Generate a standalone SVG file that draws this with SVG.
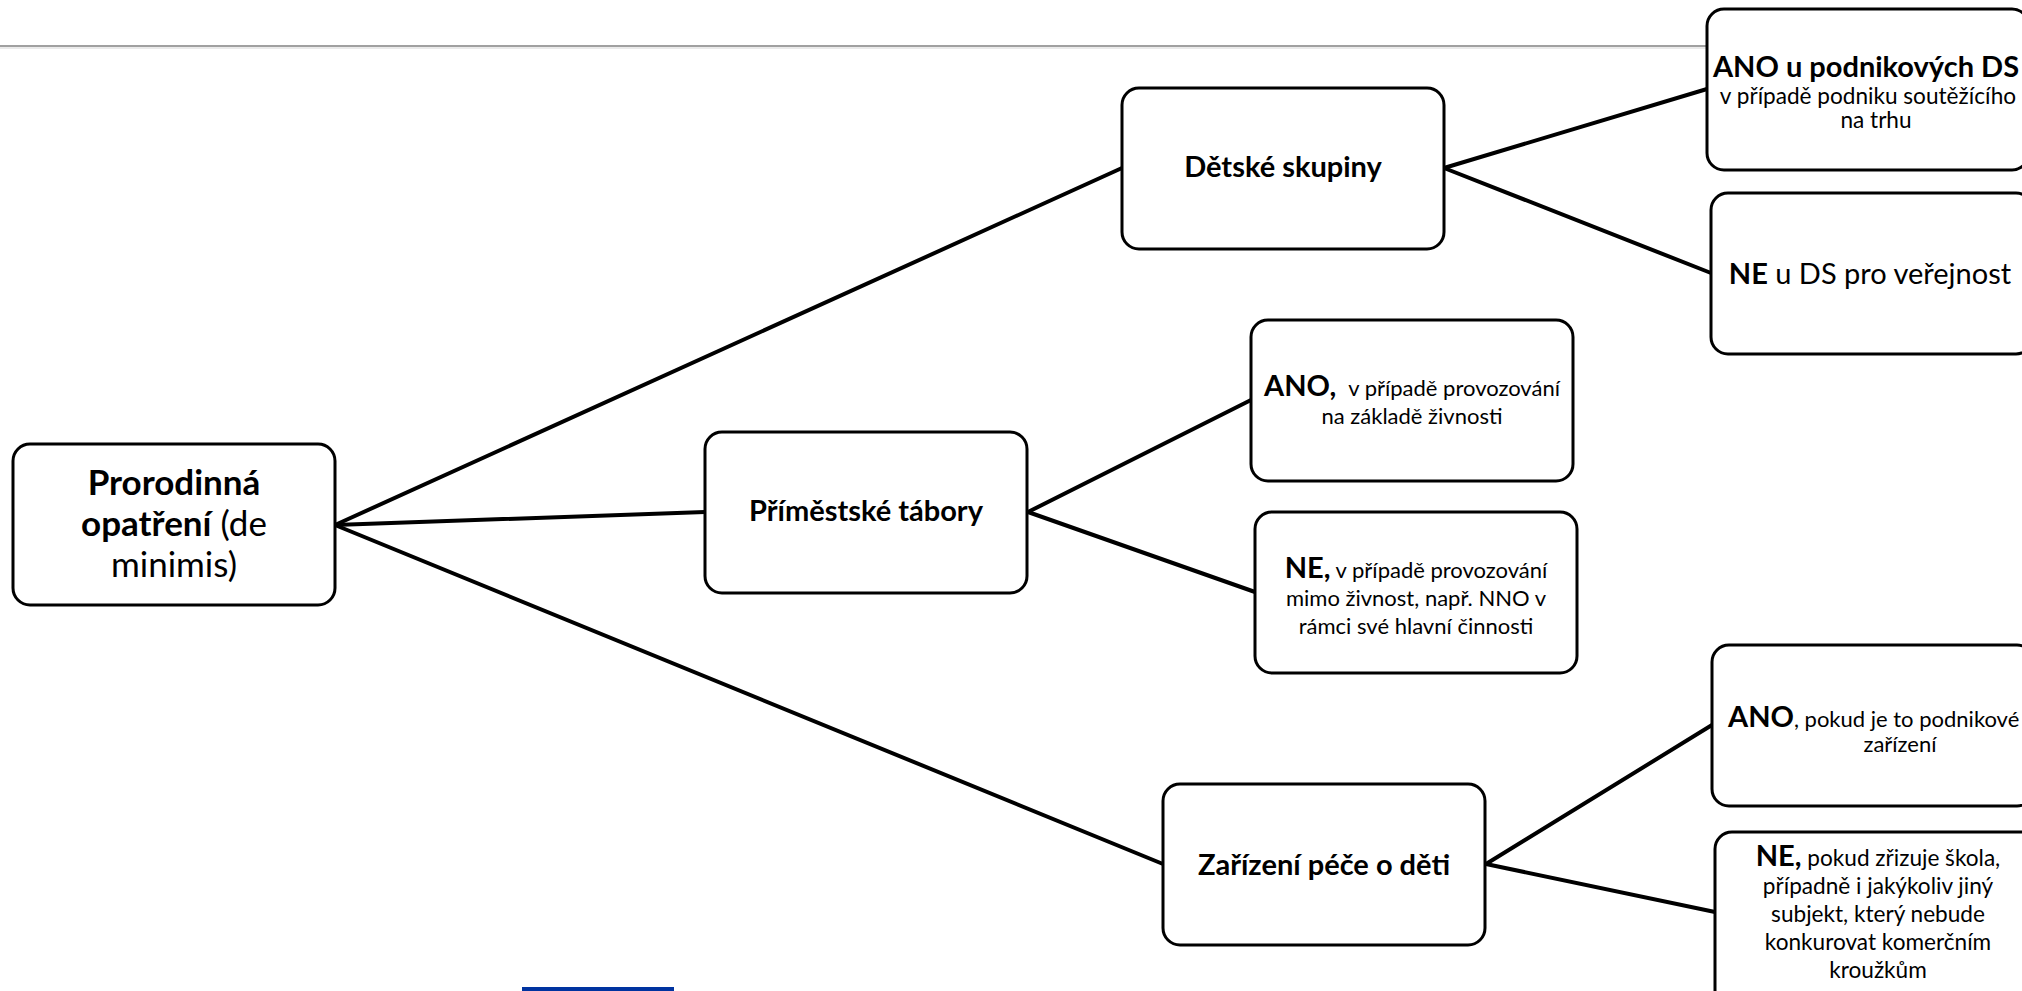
<svg xmlns="http://www.w3.org/2000/svg" width="2022" height="991" viewBox="0 0 2022 991">
<style>
.box{fill:#fff;stroke:#000;stroke-width:3}
.conn line{stroke:#000;stroke-width:4;stroke-linecap:round}
text{font-family:Lato,"Liberation Sans",sans-serif;fill:#000}
.R{font-size:35px}
.L{font-size:29px}
.S{font-size:22px}
.b{font-weight:bold}
.c{text-anchor:middle}
</style>
<rect x="0" y="0" width="2022" height="991" fill="#fff"/>
<line x1="0" y1="46" x2="1710" y2="46" stroke="#a0a0a0" stroke-width="2"/>
<line x1="0" y1="48" x2="1710" y2="48" stroke="#d6d6d6" stroke-width="1"/>
<g id="connectors" class="conn">
<line x1="335" y1="525" x2="1122" y2="168"/>
<line x1="335" y1="525" x2="705" y2="512"/>
<line x1="335" y1="525" x2="1163" y2="864"/>
<line x1="1444" y1="168" x2="1707" y2="89"/>
<line x1="1444" y1="168" x2="1711" y2="273"/>
<line x1="1028" y1="512" x2="1251" y2="400"/>
<line x1="1028" y1="512" x2="1255" y2="592"/>
<line x1="1486" y1="864" x2="1712" y2="725"/>
<line x1="1486" y1="864" x2="1715" y2="912"/>
</g>
<g id="root">
<rect class="box" x="13" y="444" width="322" height="161" rx="17"/>
<text class="R c" x="174" y="495"><tspan class="b">Prorodinná</tspan></text>
<text class="R c" x="174" y="536"><tspan class="b">opatření</tspan> (de</text>
<text class="R c" x="174" y="577">minimis)</text>
</g>
<g id="detske-skupiny">
<rect class="box" x="1122" y="88" width="322" height="161" rx="17"/>
<text class="L c b" x="1283" y="177">Dětské skupiny</text>
</g>
<g id="primestske-tabory">
<rect class="box" x="705" y="432" width="322" height="161" rx="17"/>
<text class="L c b" x="866" y="521">Příměstské tábory</text>
</g>
<g id="zarizeni-pece">
<rect class="box" x="1163" y="784" width="322" height="161" rx="17"/>
<text class="L c b" x="1324" y="875">Zařízení péče o děti</text>
</g>
<g id="pt-ano">
<rect class="box" x="1251" y="320" width="322" height="161" rx="17"/>
<text class="S c" x="1412" y="396"><tspan class="L b">ANO,</tspan><tspan dx="12">v případě provozování</tspan></text>
<text class="S c" x="1412" y="424">na základě živnosti</text>
</g>
<g id="pt-ne">
<rect class="box" x="1255" y="512" width="322" height="161" rx="17"/>
<text class="S c" x="1416" y="578"><tspan class="L b">NE,</tspan> v případě provozování</text>
<text class="S c" x="1416" y="606">mimo živnost, např. NNO v</text>
<text class="S c" x="1416" y="634">rámci své hlavní činnosti</text>
</g>
<g id="ds-ano">
<rect class="box" x="1707" y="9" width="322" height="161" rx="17"/>
<text class="L c b" x="1866" y="77">ANO u podnikových DS</text>
<text class="S c" x="1868" y="104" style="font-size:22.6px">v případě podniku soutěžícího</text>
<text class="S c" x="1876" y="128" style="font-size:22.6px">na trhu</text>
</g>
<g id="ds-ne">
<rect class="box" x="1711" y="193" width="322" height="161" rx="17"/>
<text class="L c" x="1870" y="284"><tspan class="b">NE</tspan> u DS pro veřejnost</text>
</g>
<g id="zp-ano">
<rect class="box" x="1712" y="645" width="322" height="161" rx="17"/>
<text class="S" x="1728" y="727"><tspan class="L b">ANO</tspan>, pokud je to podnikové</text>
<text class="S c" x="1900" y="752">zařízení</text>
</g>
<g id="zp-ne">
<rect class="box" x="1715" y="832" width="322" height="175" rx="17"/>
<text class="S c" x="1878" y="866" style="font-size:22.6px"><tspan class="L b">NE,</tspan> pokud zřizuje škola,</text>
<text class="S c" x="1878" y="894" style="font-size:22.6px">případně i jakýkoliv jiný</text>
<text class="S c" x="1878" y="922" style="font-size:22.6px">subjekt, který nebude</text>
<text class="S c" x="1878" y="950" style="font-size:22.6px">konkurovat komerčním</text>
<text class="S c" x="1878" y="978" style="font-size:22.6px">kroužkům</text>
</g>
<rect x="522" y="987" width="152" height="4" fill="#0033a0"/>
</svg>
